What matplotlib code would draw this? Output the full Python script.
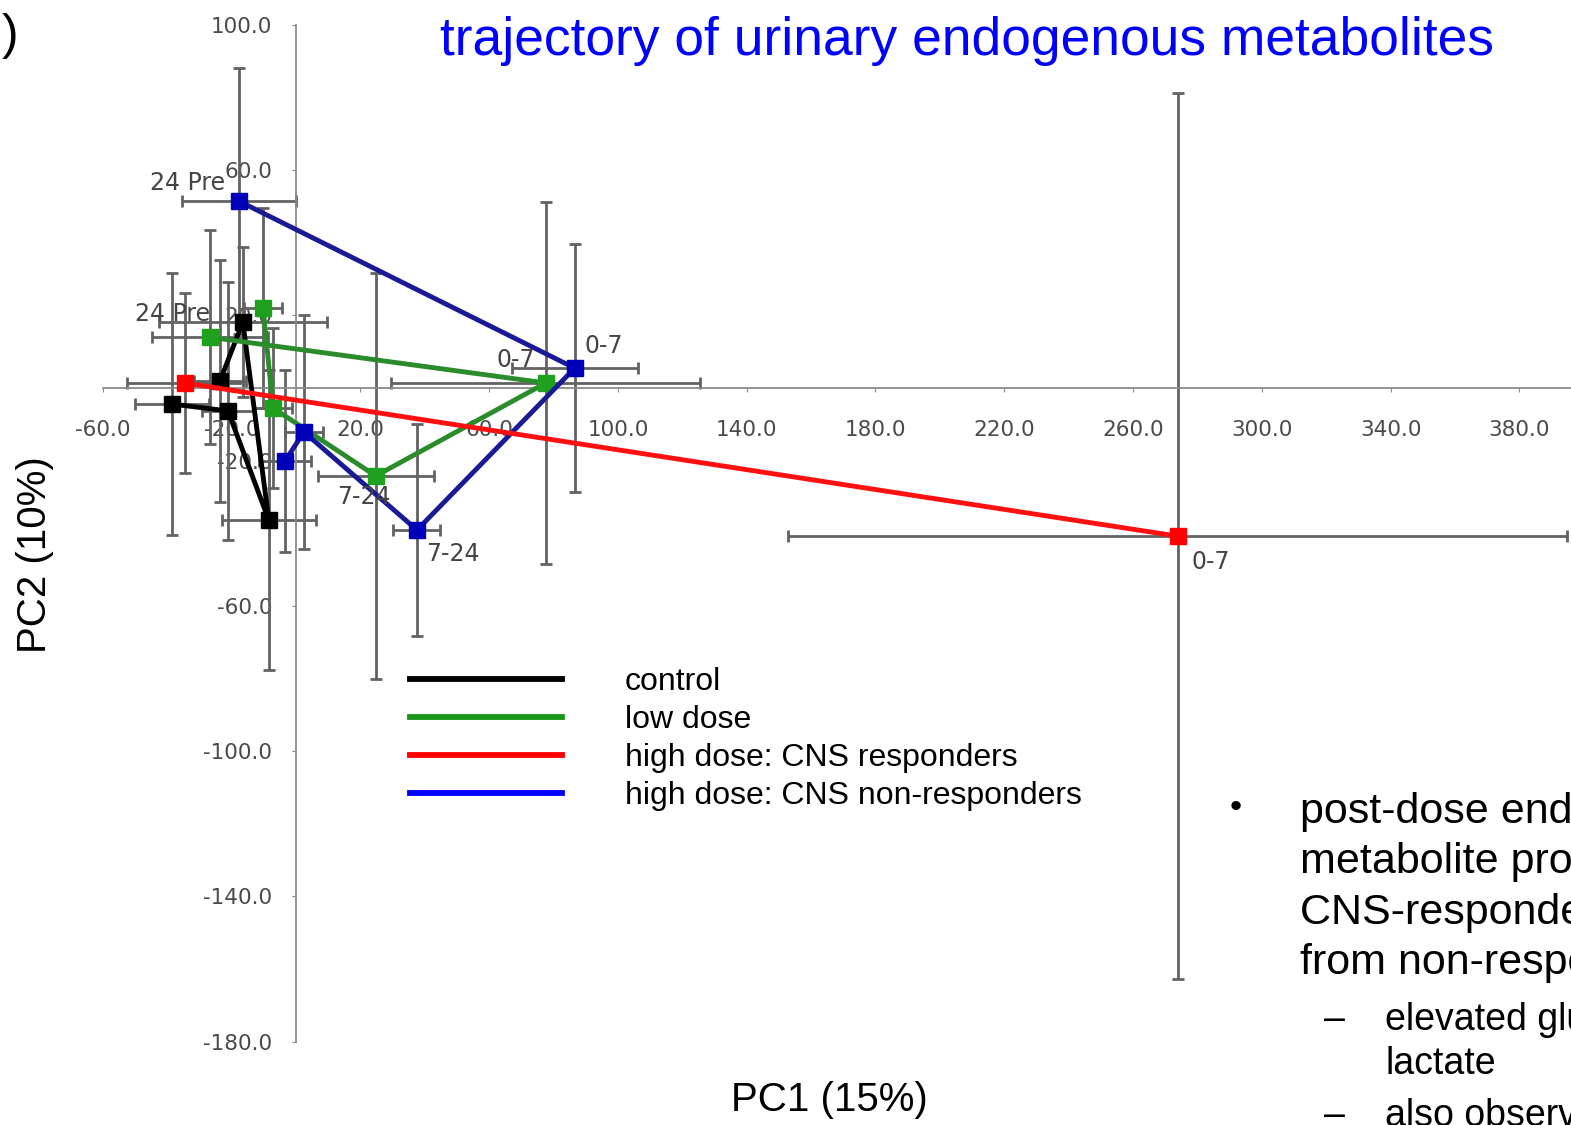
import matplotlib.pyplot as plt
from matplotlib import font_manager
from matplotlib.lines import Line2D

# PCA scores (mean +/- error) per group over the urine collection periods
ctrl_x = [-38.5, -21.1, -8.4, -16.5, -23.6]
ctrl_y = [-4.4, -6.3, -36.4, 18.2, 1.9]
ctrl_xerr = [11.5, 8, 14.6, 26, 8]
ctrl_yerr = [36.1, 35.5, 41.3, 20.7, 33.3]

low_x = [-26.7, 77.6, 24.8, -7.1, -10.2]
low_y = [14.0, 1.4, -24.2, -5.5, 22.0]
low_xerr = [18, 48, 18, 6, 6]
low_yerr = [29.5, 49.9, 55.9, 22, 27.5]

resp_x = [-34.5, 273.9]
resp_y = [1.4, -40.8]
resp_xerr = [18, 121]
resp_yerr = [24.8, 122]

nonresp_x = [-17.7, 86.6, 37.6, 2.5, -3.4]
nonresp_y = [51.5, 5.5, -39.1, -12.1, -20.1]
nonresp_xerr = [17.8, 19.6, 7.3, 6, 8]
nonresp_yerr = [36.6, 34.2, 29.2, 32.2, 25.1]

xticks = [-60, -20, 20, 60, 100, 140, 180, 220, 260, 300, 340, 380]
yticks = [-180, -140, -100, -60, -20, 20, 60, 100]

legend_labels = ["control", "low dose", "high dose: CNS responders",
                 "high dose: CNS non-responders"]

bullet_lines = ["post-dose endogenous", "metabolite profile of",
                "CNS-responders distinct", "from non-responders"]
sub_lines = ["elevated glucose and", "lactate"]
sub_lines2 = ["also observed in"]

names = {f.name for f in font_manager.fontManager.ttflist}
if "Liberation Sans Narrow" in names:
    narrow = "Liberation Sans Narrow"
    leg_size, bul_size, sub_size = 28, 36, 32
else:
    narrow = "Liberation Sans"
    leg_size, bul_size, sub_size = 23, 31, 27

fig = plt.figure(figsize=(15.71, 11.25), dpi=100)
ax = fig.add_axes([0, 0, 1, 1])
ax.set_xlim(-91.9, 396.0)
ax.set_ylim(-203.0, 106.9)

# axes cross at the origin
for side in ["top", "right"]:
    ax.spines[side].set_visible(False)
ax.spines["left"].set_position(("data", 0))
ax.spines["bottom"].set_position(("data", 0))
ax.spines["left"].set_bounds(-180, 100)
ax.spines["bottom"].set_bounds(-60, 400)
for side in ["left", "bottom"]:
    ax.spines[side].set_color("#8a8a8a")
    ax.spines[side].set_linewidth(1.3)

ax.set_xticks(xticks)
ax.set_yticks(yticks)
ax.set_xticklabels([f"{t:.1f}" for t in xticks])
ax.set_yticklabels([f"{t:.1f}" for t in yticks])
ax.tick_params(axis="x", direction="out", length=3, color="#8a8a8a",
               pad=20, labelsize=15.5, labelcolor="#4a4a4a")
ax.tick_params(axis="y", direction="out", length=3, color="#8a8a8a",
               pad=14, labelsize=15.5, labelcolor="#4a4a4a")
for lab in ax.get_xticklabels() + ax.get_yticklabels():
    lab.set_family("DejaVu Sans")

err_style = dict(fmt="none", ecolor="#626262", elinewidth=2.0,
                 capsize=4.5, capthick=2.0, zorder=2)
ax.errorbar(ctrl_x, ctrl_y, xerr=ctrl_xerr, yerr=ctrl_yerr, **err_style)
ax.errorbar(low_x, low_y, xerr=low_xerr, yerr=low_yerr, **err_style)
ax.errorbar(resp_x, resp_y, xerr=resp_xerr, yerr=resp_yerr, **err_style)
ax.errorbar(nonresp_x, nonresp_y, xerr=nonresp_xerr, yerr=nonresp_yerr, **err_style)

ax.plot(ctrl_x, ctrl_y, color="black", lw=3.5, marker="s", ms=11.5,
        mfc="black", mec="black", zorder=4)
ax.plot(low_x, low_y, color="#2a8c2a", lw=3.5, marker="s", ms=11.5,
        mfc="#1fa01f", mec="#1fa01f", zorder=4)
ax.plot(nonresp_x, nonresp_y, color="#1a1a96", lw=3.5, marker="s", ms=11.5,
        mfc="#0000b8", mec="#0000b8", zorder=4)
ax.plot(resp_x, resp_y, color="#ff1010", lw=3.5, marker="s", ms=11.5,
        mfc="#ff0000", mec="#ff0000", zorder=5)

# collection period labels
lab_style = dict(textcoords="offset pixels", fontsize=17, color="#444444",
                 family="DejaVu Sans", va="center", zorder=6)
ax.annotate("24 Pre", (nonresp_x[0], nonresp_y[0]), xytext=(-14, 18), ha="right", **lab_style)
ax.annotate("24 Pre", (low_x[0], low_y[0]), xytext=(0, 23), ha="right", **lab_style)
ax.annotate("0-7", (low_x[1], low_y[1]), xytext=(-11, 23), ha="right", **lab_style)
ax.annotate("0-7", (nonresp_x[1], nonresp_y[1]), xytext=(10, 22), ha="left", **lab_style)
ax.annotate("7-24", (low_x[2], low_y[2]), xytext=(-39, -21), ha="left", **lab_style)
ax.annotate("7-24", (nonresp_x[2], nonresp_y[2]), xytext=(9, -24), ha="left", **lab_style)
ax.annotate("0-7", (resp_x[1], resp_y[1]), xytext=(14, -26), ha="left", **lab_style)

ax.set_xlabel("PC1 (15%)", fontsize=29, family="Liberation Sans", va="center")
ax.set_ylabel("PC2 (10%)", fontsize=29, family="Liberation Sans", va="center")
ax.xaxis.set_label_coords(829 / 1571, 1 - 1100 / 1125)
ax.yaxis.set_label_coords(35 / 1571, 1 - 555 / 1125)

# legend
leg_px = leg_size * 100 / 72
handles = [Line2D([], [], color=c, lw=4.2) for c in ["black", "#1a961a", "#ff0000", "#0000ff"]]
ax.legend(handles, legend_labels, loc="upper left",
          bbox_to_anchor=(410 / 1571, 1 - 667 / 1125), bbox_transform=fig.transFigure,
          frameon=False, borderpad=0, borderaxespad=0,
          handlelength=152 / leg_px, handletextpad=63 / leg_px,
          labelspacing=0.25, prop={"family": narrow, "size": leg_size})

fig.text(967 / 1571, 1 - 55 / 1125, "trajectory of urinary endogenous metabolites",
         color="#0000ff", fontsize=38.4, family="Liberation Sans",
         ha="center", va="baseline")
fig.text(0.001, 1 - 36 / 1125, ")", fontsize=36, family="Liberation Sans", va="center")

# bullet text on the right
fig.text(1236 / 1571, 1 - 809 / 1125, "\u2022", fontsize=bul_size * 0.8,
         family="Liberation Sans", ha="center", va="center")
for i, line in enumerate(bullet_lines):
    fig.text(1300 / 1571, 1 - (812 + 50.3 * i) / 1125, line, fontsize=bul_size,
             family=narrow, va="center")
for i, line in enumerate(sub_lines):
    y = 1 - (1020 + 44 * i) / 1125
    if i == 0:
        fig.text(1334 / 1571, y, "\u2013", fontsize=sub_size, family="Liberation Sans",
                 ha="center", va="center")
    fig.text(1385 / 1571, y, line, fontsize=sub_size, family=narrow, va="center")
for line in sub_lines2:
    y = 1 - 1116 / 1125
    fig.text(1334 / 1571, y, "\u2013", fontsize=sub_size, family="Liberation Sans",
             ha="center", va="center")
    fig.text(1385 / 1571, y, line, fontsize=sub_size, family=narrow, va="center")

fig.savefig("out.png", dpi=100)
